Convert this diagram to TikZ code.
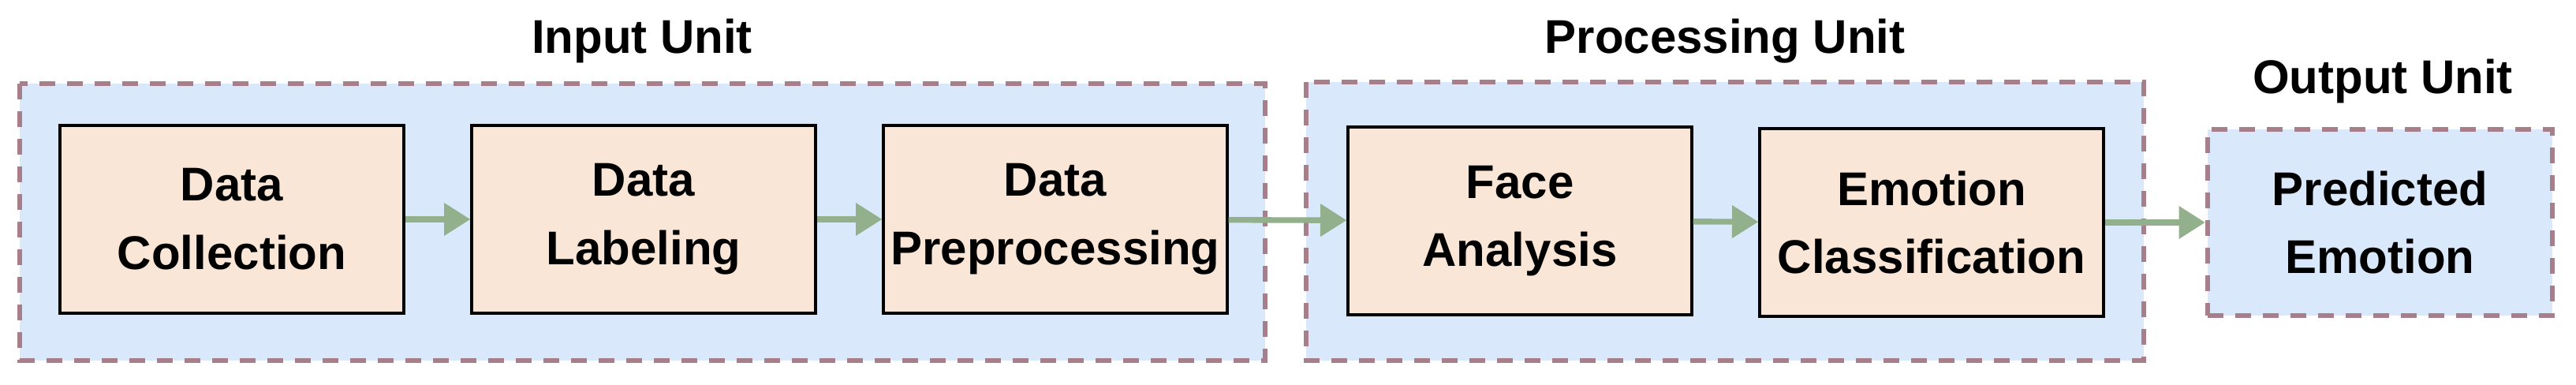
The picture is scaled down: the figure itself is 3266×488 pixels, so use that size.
\documentclass[tikz,border=0pt]{standalone}
\usepackage{fontspec}
\setmainfont{Liberation Sans}
\usetikzlibrary{arrows.meta}
\definecolor{grpfill}{HTML}{DAE8FC}
\definecolor{grpline}{HTML}{A67F8A}
\definecolor{boxfill}{HTML}{FAE6D6}
\definecolor{arr}{HTML}{93B08C}
\begin{document}
\begin{tikzpicture}[x=0.3pt,y=-0.3pt,
  grp/.style={fill=grpfill,draw=grpline,line width=1.9pt,dash pattern=on 6pt off 4.5pt},
  box/.style={fill=boxfill,draw=black,line width=1pt,minimum width=436*0.3pt,minimum height=238*0.3pt,align=center,font=\bfseries\fontsize{18}{26}\selectfont,inner sep=0pt},
  ttl/.style={font=\bfseries\fontsize{18}{21}\selectfont},
  conn/.style={draw=arr,line width=2.2pt,-{Triangle[length=10pt,width=12pt]}}]
\useasboundingbox (0,0) rectangle (3266,488);
\path[grp] (25,106) rectangle (1604,457);
\path[grp] (1656,104) rectangle (2718,457);
\node[grp,minimum width=437*0.3pt,minimum height=236*0.3pt,inner sep=0pt,align=center,font=\bfseries\fontsize{18}{26}\selectfont] (pe) at (3017.5,282) {Predicted\\Emotion};
\node[ttl] (t1) at (814,52) {Input Unit};
\node[ttl] (t2) at (2187,52) {Processing Unit};
\node[ttl] (t3) at (3021,103) {Output Unit};
\node[box] (dc) at (294,278) {Data\\Collection};
\node[box] (dl) at (816,278) {Data\\Labeling};
\node[box] (dp) at (1338,278) {Data\\Preprocessing};
\node[box] (fa) at (1927,280) {Face\\Analysis};
\node[box] (ec) at (2449,282) {Emotion\\Classification};
\draw[conn] (dc) -- (dl);
\draw[conn] (dl) -- (dp);
\draw[conn] (dp) -- (fa);
\draw[conn] (fa) -- (ec);
\draw[conn] (ec) -- (pe);
\end{tikzpicture}
\end{document}
